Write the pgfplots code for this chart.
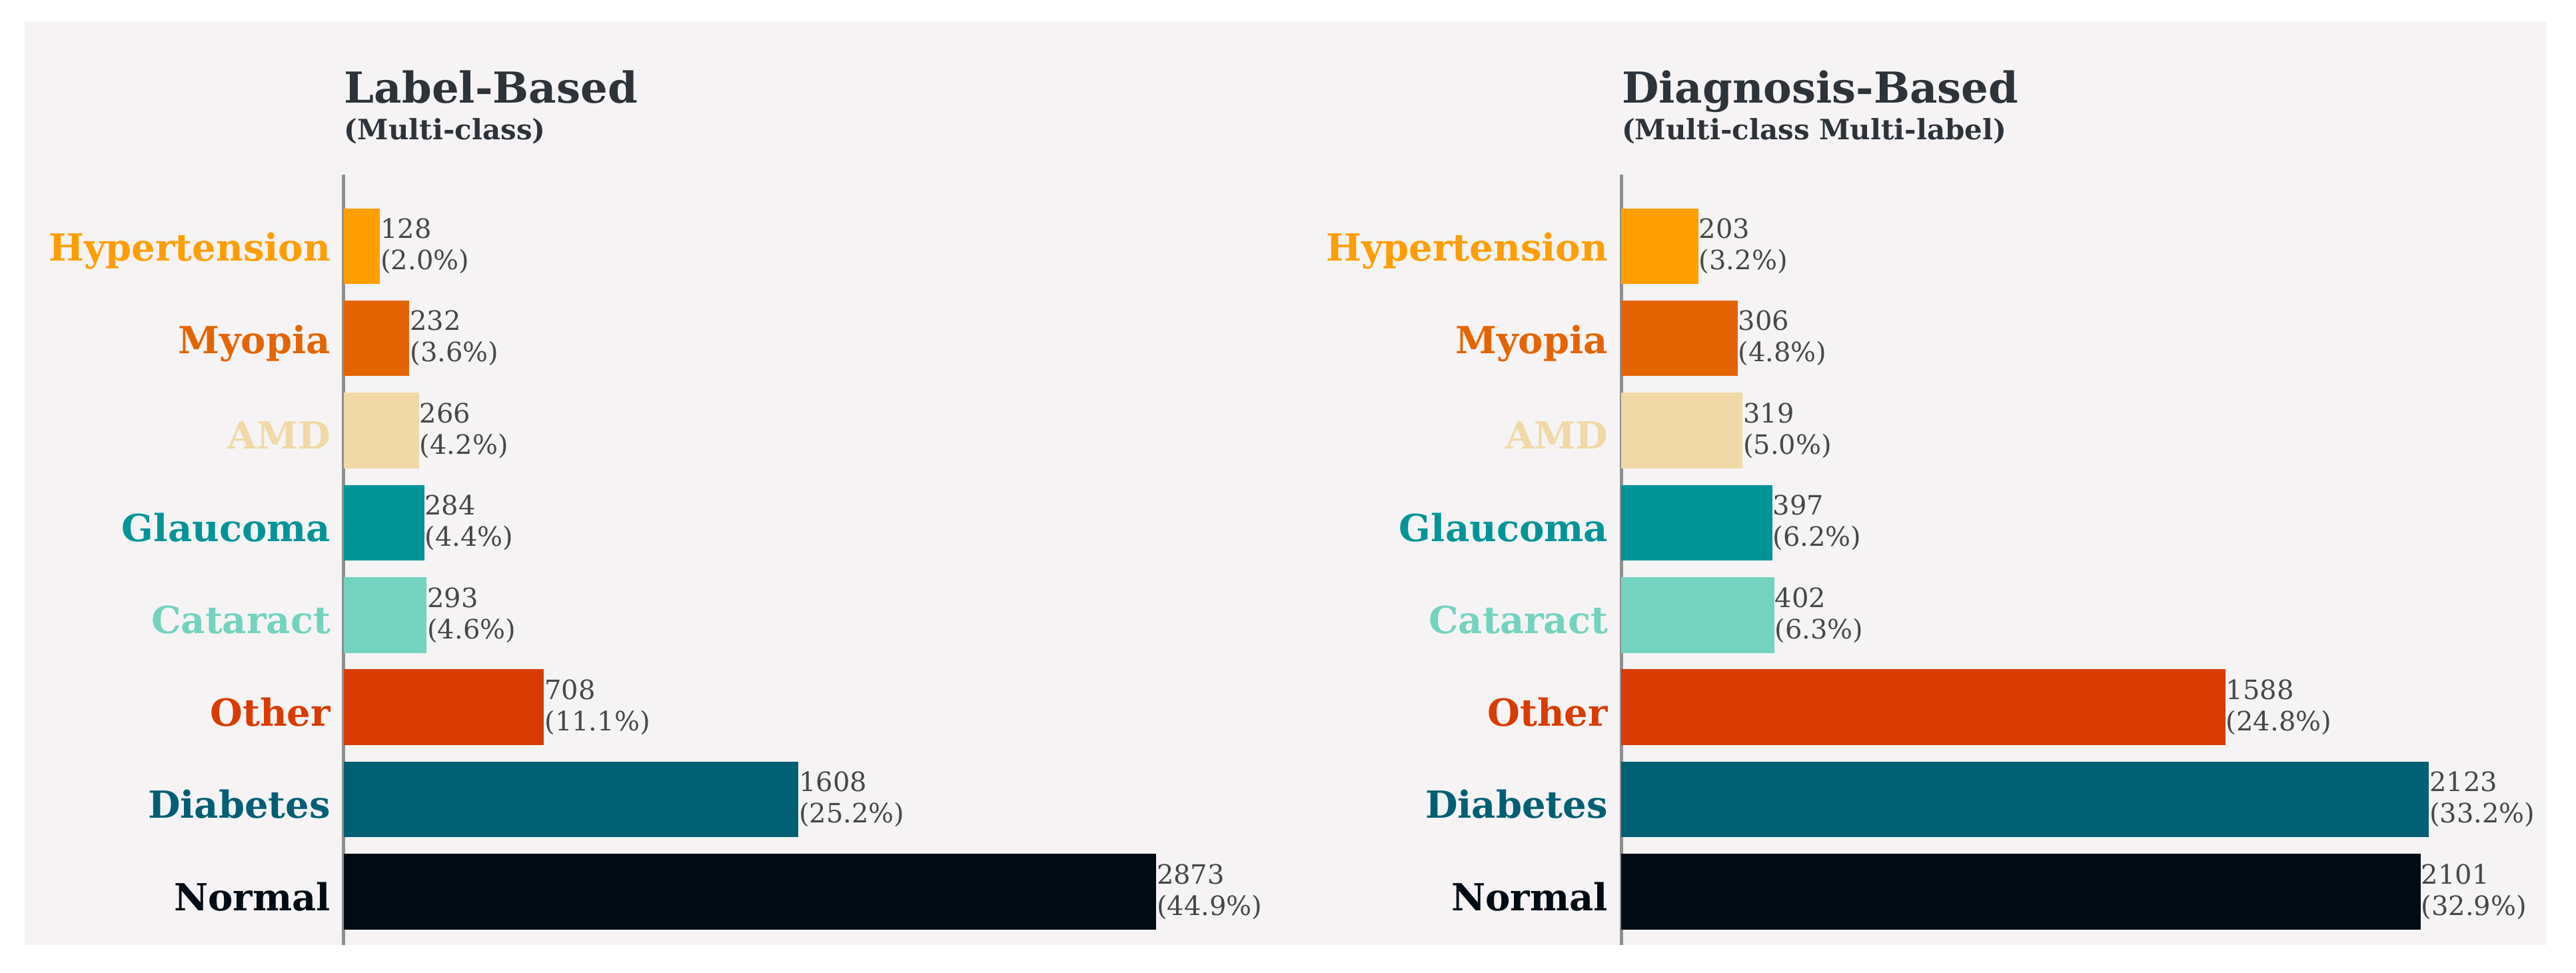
\documentclass[border=0pt]{standalone}
\usepackage{fontspec}
\setmainfont{DejaVu Serif}
\usepackage{pgfplots}
\pgfplotsset{compat=1.18}
\definecolor{cHyp}{HTML}{FF9E00}
\definecolor{cMyo}{HTML}{E46500}
\definecolor{cAMD}{HTML}{F0D9A6}
\definecolor{cGla}{HTML}{009496}
\definecolor{cCat}{HTML}{73D3BE}
\definecolor{cOth}{HTML}{D93B00}
\definecolor{cDia}{HTML}{005F73}
\definecolor{cNor}{HTML}{010B13}
\definecolor{panel}{HTML}{F5F3F4}
\definecolor{titlegray}{HTML}{2D3339}
\definecolor{valgray}{HTML}{474747}
\definecolor{axisgray}{HTML}{8F8F8F}
\pgfplotsset{
  mybar/.style={
    width=250pt, height=231.2pt, scale only axis, anchor=south west,
    xbar, bar width=0.82, bar shift=0pt,
    xmin=0, ymin=-0.578, ymax=7.775,
    ytick={0,...,7},
    yticklabels={\textcolor{cNor}{Normal},\textcolor{cDia}{Diabetes},\textcolor{cOth}{Other},\textcolor{cCat}{Cataract},\textcolor{cGla}{Glaucoma},\textcolor{cAMD}{AMD},\textcolor{cMyo}{Myopia},\textcolor{cHyp}{Hypertension}},
    axis x line=none, axis y line*=left,
    axis line style={draw=axisgray, line width=1pt, -},
    major tick length=0pt,
    yticklabel style={font=\bfseries\fontsize{11.2}{13}\selectfont, inner sep=0pt, xshift=-3.8pt, yshift=-1.5pt},
    nodes near coords, point meta=explicit symbolic,
    every node near coord/.append style={font=\fontsize{8}{9.4}\selectfont, text=valgray, align=left, anchor=west, inner sep=0pt},
    clip=false,
  }
}
\begin{document}
\begin{tikzpicture}
\fill[white] (0,0) rectangle (773.2pt,291.8pt);
\fill[panel] (7.4pt,8.2pt) rectangle (764.4pt,285.4pt);
\begin{axis}[mybar, at={(103.2pt,8.2pt)}, xmax=2946]
\addplot[fill=cNor, draw=none] coordinates {(2873,0) [{2873\\(44.9\%)}]};
\addplot[fill=cDia, draw=none] coordinates {(1608,1) [{1608\\(25.2\%)}]};
\addplot[fill=cOth, draw=none] coordinates {(708,2) [{708\\(11.1\%)}]};
\addplot[fill=cCat, draw=none] coordinates {(293,3) [{293\\(4.6\%)}]};
\addplot[fill=cGla, draw=none] coordinates {(284,4) [{284\\(4.4\%)}]};
\addplot[fill=cAMD, draw=none] coordinates {(266,5) [{266\\(4.2\%)}]};
\addplot[fill=cMyo, draw=none] coordinates {(232,6) [{232\\(3.6\%)}]};
\addplot[fill=cHyp, draw=none] coordinates {(128,7) [{128\\(2.0\%)}]};
\node[anchor=base west, inner sep=0pt, text=titlegray, font=\bfseries\fontsize{12.8}{15}\selectfont] at (rel axis cs:0,1) [yshift=21.6pt] {Label-Based};
\node[anchor=base west, inner sep=0pt, text=titlegray, font=\bfseries\fontsize{8.4}{10}\selectfont] at (rel axis cs:0,1) [yshift=10.6pt] {(Multi-class)};
\end{axis}
\begin{axis}[mybar, at={(486.6pt,8.2pt)}, xmax=2189]
\addplot[fill=cNor, draw=none] coordinates {(2101,0) [{2101\\(32.9\%)}]};
\addplot[fill=cDia, draw=none] coordinates {(2123,1) [{2123\\(33.2\%)}]};
\addplot[fill=cOth, draw=none] coordinates {(1588,2) [{1588\\(24.8\%)}]};
\addplot[fill=cCat, draw=none] coordinates {(402,3) [{402\\(6.3\%)}]};
\addplot[fill=cGla, draw=none] coordinates {(397,4) [{397\\(6.2\%)}]};
\addplot[fill=cAMD, draw=none] coordinates {(319,5) [{319\\(5.0\%)}]};
\addplot[fill=cMyo, draw=none] coordinates {(306,6) [{306\\(4.8\%)}]};
\addplot[fill=cHyp, draw=none] coordinates {(203,7) [{203\\(3.2\%)}]};
\node[anchor=base west, inner sep=0pt, text=titlegray, font=\bfseries\fontsize{12.8}{15}\selectfont] at (rel axis cs:0,1) [yshift=21.6pt] {Diagnosis-Based};
\node[anchor=base west, inner sep=0pt, text=titlegray, font=\bfseries\fontsize{8.4}{10}\selectfont] at (rel axis cs:0,1) [yshift=10.6pt] {(Multi-class Multi-label)};
\end{axis}
\end{tikzpicture}
\end{document}
